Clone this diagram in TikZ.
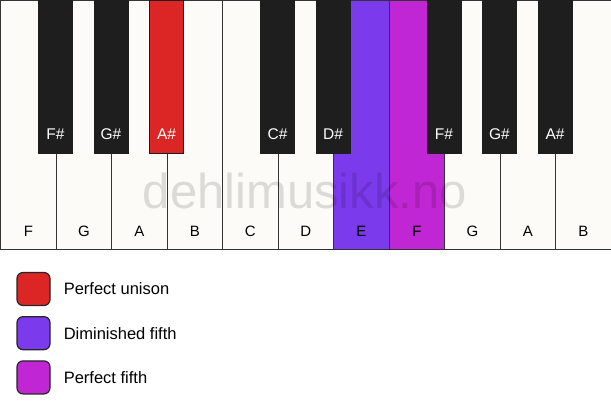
\documentclass[tikz,border=0pt]{standalone}
\usepackage{fontspec}
\setmainfont{Liberation Sans}
\definecolor{KeyWhite}{HTML}{FDFBF7}
\definecolor{KeyBlack}{HTML}{1E1E1E}
\definecolor{EdgeGray}{HTML}{333333}
\definecolor{UnisonRed}{HTML}{DC2626}
\definecolor{DimViolet}{HTML}{7C3AED}
\definecolor{FifthMagenta}{HTML}{C026D3}
\usetikzlibrary{positioning}
\tikzset{
  % Key styles
  whitekey/.style={rectangle, draw=EdgeGray, line width=1.2pt, fill=KeyWhite, minimum width=55.5pt, minimum height=249pt, anchor=north west, inner sep=0pt},
  blackkey/.style={rectangle, draw=KeyBlack, line width=1pt, fill=KeyBlack, minimum width=34pt, minimum height=153pt, anchor=north, inner sep=0pt},
  % Text styles
  whitelabel/.style={font=\fontsize{15}{18}\selectfont, text=black, inner sep=0pt},
  blacklabel/.style={font=\fontsize{15.5}{18}\selectfont, text=white, inner sep=0pt},
  watermark/.style={font=\fontsize{49}{54}\selectfont, text=black, text opacity=0.13, inner sep=0pt},
  % Legend styles
  legendbox/.style={rectangle, rounded corners=6pt, draw=black!85, line width=1.2pt, minimum size=33pt, inner sep=0pt},
  legendtext/.style={font=\fontsize{16.5}{19}\selectfont, anchor=west, inner sep=0pt}
}
\begin{document}
\begin{tikzpicture}[x=1pt, y=-1pt]
  \useasboundingbox (0,0) rectangle (611,417);
  \fill[white] (0,0) rectangle (611,417);

  % White keys
  \foreach \n/\c [count=\i from 0] in {F/KeyWhite, G/KeyWhite, A/KeyWhite, B/KeyWhite, C/KeyWhite, D/KeyWhite, E/DimViolet, F/FifthMagenta, G/KeyWhite, A/KeyWhite, B/KeyWhite} {
    \node[whitekey, fill=\c] (w\i) at (\i*55.5,0) {};
    \node[whitelabel] (wl\i) at ([yshift=19pt]w\i.south) {\n};
  }

  % Black keys
  \foreach \n/\b/\c in {F\#/1/KeyBlack, G\#/2/KeyBlack, A\#/3/UnisonRed, C\#/5/KeyBlack, D\#/6/KeyBlack, F\#/8/KeyBlack, G\#/9/KeyBlack, A\#/10/KeyBlack} {
    \node[blackkey, fill=\c] (b\b) at (\b*55.5,0) {};
    \node[blacklabel] (bl\b) at ([yshift=20pt]b\b.south) {\n};
  }

  % Watermark
  \node[watermark] (mark) at (305,191) {dehlimusikk.no};

  % Legend
  \foreach \t/\c [count=\k from 0] in {Perfect unison/UnisonRed, Diminished fifth/DimViolet, Perfect fifth/FifthMagenta} {
    \node[legendbox, fill=\c] (box\k) at (33.5,289+\k*44.2) {};
    \node[legendtext, right=13pt of box\k] (txt\k) {\t};
  }
\end{tikzpicture}
\end{document}
